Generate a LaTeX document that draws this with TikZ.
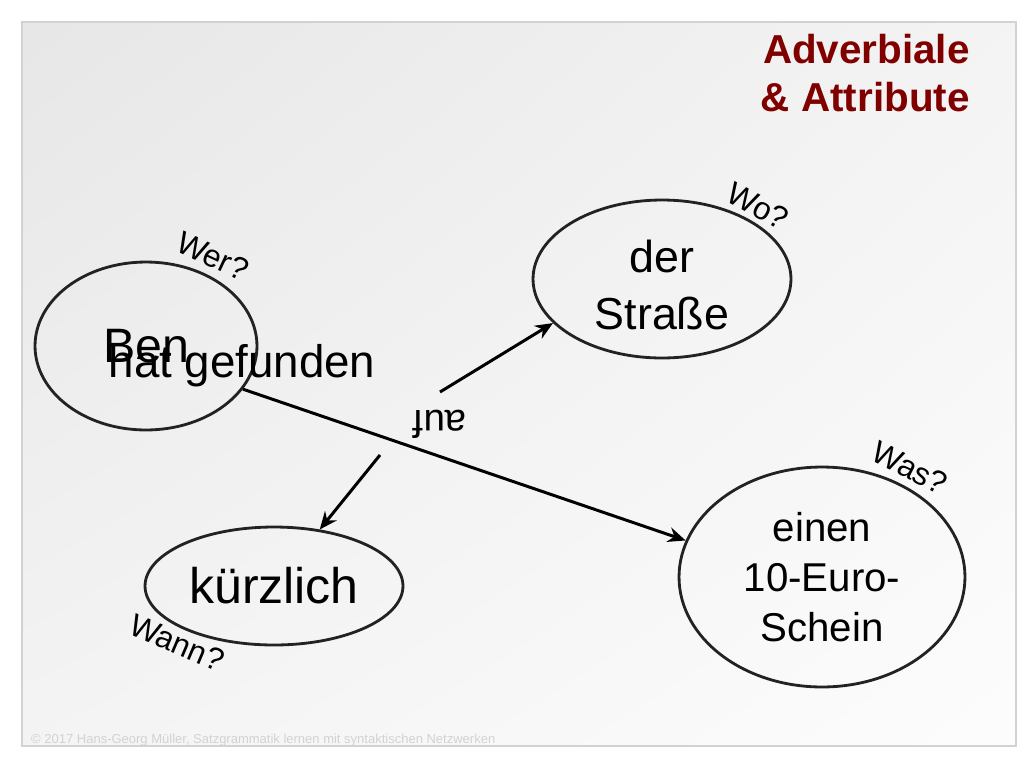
\documentclass[tikz,border=0pt]{standalone}
\usepackage{fontspec}
\setmainfont{Liberation Sans}
\usetikzlibrary{shapes.geometric}
\usetikzlibrary{arrows.meta, shadings}
\definecolor{titlered}{RGB}{128,0,0}
\definecolor{inkgray}{RGB}{34,34,34}

\begin{document}
\begin{tikzpicture}[x=0.02cm, y=-0.02cm,
	bubble/.style={draw=inkgray, ellipse, line width=1.6pt, inner sep=0pt, align=center},
	ask/.style={font=\fontsize{18}{20}\selectfont},
	edge/.style={line width=1.7pt, -{Stealth[length=10pt, width=8.5pt]}}]
	\useasboundingbox (0,0) rectangle (1024,768);
	% slide background
	\shade[upper left=gray!19, upper right=gray!9, lower left=gray!9, lower right=gray!2] (22,22) rectangle (1016,746);
	\draw[gray!35, line width=1.2pt] (22,22) rectangle (1016,746);
	\node[anchor=east, align=right, inner sep=0pt, text=titlered, font=\bfseries\fontsize{23}{27.2}\selectfont] (title) at (970, 73) {Adverbiale\\\& Attribute};
	% satzglieder
	\node[bubble, minimum width=4.44cm, minimum height=3.36cm, font=\fontsize{27.5}{30}\selectfont] (ben) at (146, 346) {Ben};
	\node[bubble, minimum width=5.16cm, minimum height=3.16cm] (str) at (662, 279) {};
	\node[align=center, font=\fontsize{25.5}{32.5}\selectfont] (strtext) at (662, 285) {der\\Straße};
	\node[bubble, minimum width=5.16cm, minimum height=2.36cm, font=\fontsize{28.5}{32}\selectfont] (kurz) at (274, 586) {kürzlich};
	\node[bubble, minimum width=5.72cm, minimum height=4.40cm, font=\fontsize{22.9}{28.3}\selectfont] (geld) at (822, 577) {einen\\10-Euro-\\Schein};
	\node[font=\fontsize{26}{30}\selectfont] (verb) at (242, 366) {hat gefunden};
	\coordinate (v1) at (380, 455);
	\coordinate (v2) at (440, 392);
	\draw[edge] (ben.-24) to (geld.165);
	\draw[edge] (v1) to (kurz);
	\draw[edge] (v2) to (str.202);
	\node[rotate=180, font=\fontsize{22}{24}\selectfont] (auf) at (440, 424) {auf};
	% fragen
	\node[ask, rotate=-25] (wer) at (213, 256) {Wer?};
	\node[ask, rotate=-28] (wo) at (758, 206) {Wo?};
	\node[ask, rotate=-27] (was) at (910, 468) {Was?};
	\node[ask, rotate=-23] (wann) at (177, 643) {Wann?};
	\node[anchor=west, text=gray!35, font=\fontsize{7.4}{8}\selectfont] (note) at (25, 740) {© 2017 Hans-Georg Müller, Satzgrammatik lernen mit syntaktischen Netzwerken};
\end{tikzpicture}
\end{document}
